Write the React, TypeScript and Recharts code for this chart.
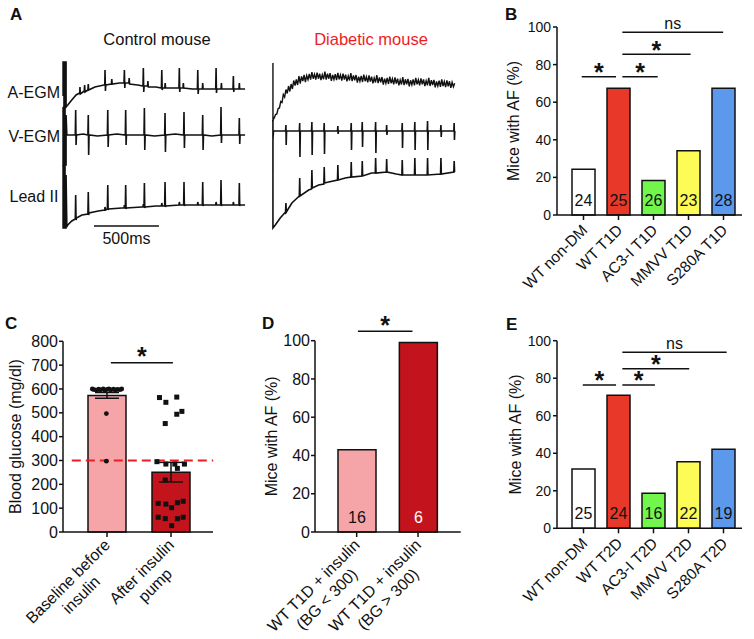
import React from "react";
import {
  BarChart,
  Bar,
  ComposedChart,
  Scatter,
  ErrorBar,
  LineChart,
  Line,
  XAxis,
  YAxis,
  ReferenceLine,
  LabelList,
  Label,
  Cell,
} from "recharts";

const FONT = "'Liberation Sans', Arial, Helvetica, sans-serif";
const INK = "#111";

// ---- panel A: traces, [time ms, amplitude] ----
const CTRL_AEGM: [number, number][] = [
  [-15, -8], [-15, 26], [-8, 26], [-8, -19], [0, -19], [0, 26], [8, 26], [8, -19],
  [21, -17], [52, -12], [85, -7],
  [113, -5], [115, 1], [118, -6], [148, -3], [151, 3], [154, -4], [176, -2], [179, 4], [182, -2],
  [230, 1], [300, 3],
  [306, 3], [308, 18], [311, -3], [314, 3], [357, 4], [360, 9], [363, 4], [420, 5],
  [454, 5], [457, 18], [460, 0], [463, 5], [491, 5], [494, 10], [497, 4], [560, 3],
  [600, 2], [603, 20], [606, -4], [609, 2], [635, 2], [638, 7], [641, 1], [700, 1],
  [742, 0], [745, 18], [748, -2], [751, 0], [768, 0], [771, 5], [774, 0], [850, 0],
  [877, 0], [880, 20], [883, -4], [886, 0], [908, 0], [911, 5], [914, 0], [980, -1],
  [1019, -1], [1022, 18], [1025, -6], [1028, -1], [1057, -1], [1060, 5], [1063, -1], [1120, -1],
  [1160, -1], [1163, 20], [1166, -5], [1169, -1], [1201, -1], [1204, 5], [1207, -1], [1270, -1],
  [1293, -1], [1296, 12], [1299, -4], [1302, -1], [1339, -1], [1342, 5], [1345, -1], [1386, -1],
];

const CTRL_VEGM: [number, number][] = [
  [-15, 28], [-15, -30], [-8, -30], [-8, 28], [0, 28], [0, -30], [8, -30], [8, 20], [14, 0],
  [50, 0], [79, 0], [82, 25], [85, -10], [88, 0],
  [140, 1], [176, 0], [179, 20], [182, -20], [185, 0],
  [250, -1], [326, 0], [329, 25], [332, -12], [335, 0],
  [400, 1], [464, 0], [467, 25], [470, -10], [473, 0],
  [540, 0], [608, 0], [611, 27], [614, -15], [617, 0],
  [690, -1], [767, 0], [770, 22], [773, -17], [776, 0],
  [850, 1], [913, 0], [916, 23], [919, -13], [922, 0],
  [990, 0], [1057, 0], [1060, 20], [1063, -15], [1066, 0],
  [1130, -1], [1198, 0], [1201, 28], [1204, -8], [1207, 0],
  [1270, 0], [1339, 0], [1342, 17], [1345, -9], [1348, 0], [1386, 0],
];

const CTRL_LEAD: [number, number][] = [
  [-15, 40], [-15, -23], [-8, -23], [-8, 40], [0, 40], [0, -23], [8, -23], [8, 30], [14, -22],
  [21, -20], [52, -16], [79, -14], [82, 10], [85, -15], [88, -13],
  [130, -10], [176, -9], [179, 13], [182, -10], [185, -8],
  [256, -6], [305, -5], [308, -2], [312, -5], [326, -4], [329, 20], [332, -5], [335, -4],
  [436, -3], [454, -3], [457, 0], [461, -3], [464, -3], [467, 20], [470, -4], [473, -3],
  [590, -2], [600, -2], [603, 1], [606, -2], [608, -2], [611, 22], [614, -3], [617, -2],
  [700, -1], [742, -1], [745, 2], [749, -1], [767, -1], [770, 23], [773, -2], [776, -1],
  [877, 0], [880, 3], [884, 0], [913, 0], [916, 23], [919, -1], [922, 0],
  [1019, 0], [1022, 3], [1026, 0], [1057, 0], [1060, 23], [1063, -1], [1066, 0],
  [1160, 0], [1163, 3], [1167, 0], [1198, 0], [1201, 25], [1204, -1], [1207, 0],
  [1293, 0], [1296, 3], [1300, 0], [1339, 0], [1342, 22], [1345, -1], [1348, 0], [1386, 0],
];

// atrial fibrillation: fast irregular activity riding on the recovery curve
const DIAB_AEGM: [number, number][] = [
  [0, 17], [0, -40], [10, -38], [20, -34.5], [30, -34], [40, -28.5], [50, -28], [60, -21.5],
  [70, -22.5], [80, -14.5], [90, -17], [100, -9.5], [110, -13.5], [120, -6], [130, -11.5],
  [140, -4], [150, -9], [160, -0.5], [170, -5.5], [180, 0.5], [190, -5], [200, 3.8], [210, -3.5],
  [220, 3.5], [230, -1], [240, 5], [250, -2], [260, 4.4], [270, 0.3], [280, 6], [290, 0.3],
  [300, 7.8], [310, 1.3], [320, 5.8], [330, 0.3], [340, 7.3], [350, 1.3], [360, 6.3], [370, -0.2],
  [380, 5.3], [390, 0.8], [400, 8.3], [410, 0.3], [420, 6.3], [430, 1.3], [440, 6.8], [450, -0.8],
  [460, 5.1], [470, 0.5], [480, 5.9], [490, -0.2], [500, 7.2], [510, 0.7], [520, 5.1], [530, -0.5],
  [540, 6.4], [550, 0.4], [560, 5.3], [570, -1.3], [580, 4.1], [590, -0.5], [600, 6.9], [610, -1.2],
  [620, 4.7], [630, -0.4], [640, 5], [650, -2.6], [660, 3.3], [670, -1.3], [680, 4.1], [690, -2],
  [700, 5.4], [710, -1.2], [720, 3.2], [730, -2.4], [740, 4.5], [750, -1.6], [760, 3.3], [770, -3.3],
  [780, 2.1], [790, -2.5], [800, 4.9], [810, -3.2], [820, 2.7], [830, -2.4], [840, 3], [850, -4.6],
  [860, 1.3], [870, -3.3], [880, 2.1], [890, -4], [900, 3.4], [910, -3.2], [920, 1.2], [930, -4.4],
  [940, 2.5], [950, -3.6], [960, 1.3], [970, -5.3], [980, 0.1], [990, -4.5], [1000, 2.9], [1010, -5.2],
  [1020, 0.7], [1030, -4.3], [1040, 1.2], [1050, -6.3], [1060, -0.3], [1070, -4.8], [1080, 0.7],
  [1090, -5.3], [1100, 2.2], [1110, -4.3], [1120, 0.2], [1130, -5.3], [1140, 1.7], [1150, -4.4],
  [1160, 0.5], [1170, -6.1], [1180, -0.7], [1190, -5.3], [1200, 2.1], [1210, -6], [1220, -0.1],
  [1230, -5.2], [1240, 0.2], [1250, -7.4], [1260, -1.5], [1270, -6.1], [1280, -0.7], [1290, -6.8],
  [1300, 0.6], [1310, -6], [1320, -1.6], [1330, -7.2], [1340, -0.3], [1350, -6.3], [1360, -1.3],
  [1370, -7.8], [1380, -2.3], [1390, -6.8], [1400, -3.3],
];

const DIAB_VEGM: [number, number][] = [
  [0, 11], [0, -9], [4, 0],
  [60, 0], [97, 0], [100, 6], [102, -14], [105, 0],
  [160, 0], [203, 0], [206, 8], [208, -26], [211, 0],
  [297, 0], [300, 9], [302, -24], [305, 0],
  [392, 0], [395, 8], [397, -23], [400, 0],
  [497, 0], [500, 5], [502, -3], [505, 0],
  [600, 0], [603, 8], [605, -19], [608, 0],
  [685, 0], [688, 9], [690, -16], [693, 0],
  [788, 0], [791, 9], [793, -22], [796, 0],
  [873, 0], [876, 6], [878, -4], [881, 0],
  [993, 0], [996, 8], [998, -17], [1001, 0],
  [1090, 0], [1093, 9], [1095, -19], [1098, 0],
  [1188, 0], [1191, 10], [1193, -19], [1196, 0],
  [1291, 0], [1294, 6], [1296, -6], [1299, 0],
  [1393, 0], [1396, 8], [1398, -9], [1401, 0],
];

const DIAB_LEAD: [number, number][] = [
  [0, 35], [0, -53], [18, -50], [56, -43], [97, -37], [100, -28], [103, -37], [146, -28],
  [203, -21], [206, -3], [209, -21], [275, -15],
  [297, -14], [300, 5], [303, -13], [352, -10],
  [392, -9], [395, 8], [398, -8], [429, -7],
  [497, -5], [500, 10], [503, -5], [557, -3],
  [600, -2], [603, 13], [606, -2], [685, -1], [688, 14], [691, -1], [760, 2],
  [788, 2], [791, 17], [794, 2], [873, 3], [876, 16], [879, 3], [950, 1],
  [993, 0], [996, 15], [999, 0], [1090, 0], [1093, 17], [1096, 0], [1145, 0],
  [1188, 0], [1191, 17], [1194, 0], [1291, 1], [1294, 17], [1297, 1],
  [1393, 3], [1396, 14], [1399, 3], [1401, 3],
];

const SCALE_BAR_MS = [223, 723];

// ---- panels B and E ----
const GROUPS_T1D = ["WT non-DM", "WT T1D", "AC3-I T1D", "MMVV T1D", "S280A T1D"];
const AF_T1D = [24.3, 67.4, 18.3, 34.2, 67.4];
const N_T1D = [24, 25, 26, 23, 28];
const GROUPS_T2D = ["WT non-DM", "WT T2D", "AC3-I T2D", "MMVV T2D", "S280A T2D"];
const AF_T2D = [31.6, 70.9, 18.7, 35.5, 42.1];
const N_T2D = [25, 24, 16, 22, 19];
const GROUP_COLORS = ["#ffffff", "#e8382a", "#72f64c", "#fdfb55", "#5c98ec"];

// significance brackets: [from, to, height, text] on a 0..5 group scale
const SIG_T1D: [number, number, number, string][] = [
  [0.45, 1.43, 73.6, "*"],
  [1.61, 2.62, 73.6, "*"],
  [1.61, 3.56, 85.5, "*"],
  [1.61, 4.49, 97.2, "ns"],
];
const SIG_T2D: [number, number, number, string][] = [
  [0.48, 1.43, 76.4, "*"],
  [1.61, 2.54, 76.4, "*"],
  [1.61, 3.52, 85.1, "*"],
  [1.61, 4.59, 93.8, "ns"],
];

// ---- panel C ----
const C_GROUPS = ["Baseline before\ninsulin", "After insulin\npump"];
const C_MEAN = [573, 251];
const C_SEM = [12, 41];
const C_COLORS = ["#f5a5a8", "#c3131c"];
const C_BASE_X = [0.27, 0.3, 0.34, 0.37, 0.4, 0.44, 0.47, 0.5, 0.53, 0.56, 0.6, 0.63, 0.66, 0.7, 0.73, 0.49, 0.49];
const C_BASE_Y = [600, 597, 595, 599, 596, 600, 594, 598, 600, 596, 599, 595, 598, 597, 600, 497, 297];
const C_PUMP_X = [1.32, 1.42, 1.59, 1.67, 1.59, 1.41, 1.28, 1.42, 1.56, 1.71, 1.6, 1.41, 1.3, 1.42, 1.51, 1.6, 1.69, 1.3, 1.41, 1.6, 1.69, 1.51];
const C_PUMP_Y = [564, 544, 566, 506, 494, 455, 295, 285, 285, 285, 267, 218, 120, 117, 102, 123, 129, 62, 56, 56, 62, 27];
const C_THRESHOLD = 300;
const C_SIG: [number, number, number, string] = [0.56, 1.53, 710, "*"];

// ---- panel D ----
const D_GROUPS = ["WT T1D + insulin\n(BG < 300)", "WT T1D + insulin\n(BG > 300)"];
const D_AF = [43, 99];
const D_N = [16, 6];
const D_SIG: [number, number, number, string] = [0.52, 1.41, 105, "*"];

const AXIS = { stroke: INK, strokeWidth: 1.5 };

let ctx: CanvasRenderingContext2D | null = null;
function measure(s: string, size: number) {
  if (!ctx) ctx = document.createElement("canvas").getContext("2d");
  if (!ctx) return s.length * size * 0.5;
  ctx.font = `${size}px ${FONT}`;
  return ctx.measureText(s).width;
}

function SlantTick(props: any) {
  const { x, y, payload, fs = 15, offX = 5, offY = 9, gap = 19 } = props;
  const lines = String(payload.value).split("\n");
  const w1 = measure(lines[0], fs);
  return (
    <g transform={`translate(${x + offX},${y + offY}) rotate(-45)`}>
      <text x={0} y={0} textAnchor="end" fontSize={fs} fontFamily={FONT} fill={INK}>
        {lines[0]}
      </text>
      {lines[1] && (
        <text x={-w1 / 2} y={gap} textAnchor="middle" fontSize={fs} fontFamily={FONT} fill={INK}>
          {lines[1]}
        </text>
      )}
    </g>
  );
}

function SigText(props: any) {
  const { viewBox, txt, shift = 4.4, size } = props;
  if (!viewBox) return null;
  const cx = viewBox.x + (viewBox.width || 0) / 2;
  const star = txt === "*";
  return (
    <text
      x={cx}
      y={viewBox.y + shift}
      textAnchor="middle"
      fontSize={size ?? (star ? 25 : 16)}
      fontWeight={star ? "bold" : "normal"}
      fontFamily={FONT}
      fill={INK}
    >
      {txt}
    </text>
  );
}

function CountLabel(props: any) {
  const { x, y, width, height, value, index, colors } = props;
  return (
    <text
      x={x + width / 2}
      y={y + height - 9}
      textAnchor="middle"
      fontSize={16}
      fontFamily={FONT}
      fill={colors ? colors[index] : INK}
    >
      {value}
    </text>
  );
}

function AfPanel({ groups, af, n, sig, top, plotTop, plotBottom, axisH, labelOffset }: any) {
  const data = groups.map((name: string, i: number) => ({ name, pct: af[i], n: n[i] }));
  const height = plotBottom - top + axisH;
  return (
    <div style={{ position: "absolute", left: 460, top }}>
      <BarChart
        width={294}
        height={height}
        data={data}
        margin={{ top: plotTop - top, right: 12, bottom: 0, left: 0 }}
      >
        <XAxis
          dataKey="name"
          interval={0}
          height={axisH}
          padding={{ left: 9, right: 1 }}
          tickSize={5}
          axisLine={AXIS}
          tickLine={AXIS}
          tick={<SlantTick fs={15.5} offX={5} offY={9} />}
        />
        <XAxis
          xAxisId="sig"
          dataKey="pos"
          type="number"
          domain={[0, 5]}
          hide
          padding={{ left: 9, right: 1 }}
          allowDataOverflow
        />
        <YAxis
          width={97}
          domain={[0, 100]}
          ticks={[0, 20, 40, 60, 80, 100]}
          tickSize={4}
          tickMargin={2}
          axisLine={AXIS}
          tickLine={AXIS}
          tick={{ fill: INK, fontSize: 14, fontFamily: FONT }}
        >
          <Label
            value="Mice with AF (%)"
            angle={-90}
            position="insideLeft"
            offset={labelOffset}
            style={{ textAnchor: "middle" }}
            fontSize={16}
            fontFamily={FONT}
            fill={INK}
          />
        </YAxis>
        <Bar dataKey="pct" barSize={23} stroke={INK} strokeWidth={1.5} isAnimationActive={false}>
          {data.map((_: any, i: number) => (
            <Cell key={i} fill={GROUP_COLORS[i]} />
          ))}
          <LabelList dataKey="n" content={<CountLabel />} />
        </Bar>
        {sig.map(([a, b, h, t]: any, i: number) => (
          <ReferenceLine
            key={i}
            xAxisId="sig"
            segment={[{ x: a, y: h }, { x: b, y: h }]}
            ifOverflow="visible"
            stroke={INK}
            strokeWidth={1.5}
            label={<SigText txt={t} shift={t === "*" ? 4.4 : -3} />}
          />
        ))}
      </BarChart>
    </div>
  );
}

function TraceChart({ left, width, domainX, traces, scaleBar }: any) {
  return (
    <div style={{ position: "absolute", left, top: 55 }}>
      <LineChart width={width} height={195} margin={{ top: 0, right: 0, bottom: 0, left: 0 }}>
        <XAxis dataKey="t" type="number" domain={domainX} hide allowDataOverflow />
        {traces.map((tr: any) => (
          <YAxis key={tr.id} yAxisId={tr.id} type="number" domain={tr.domain} hide allowDataOverflow />
        ))}
        {traces.map((tr: any) => (
          <Line
            key={tr.id}
            yAxisId={tr.id}
            data={tr.points.map(([t, v]: [number, number]) => ({ t, v }))}
            dataKey="v"
            type="linear"
            stroke={INK}
            strokeWidth={tr.w ?? 1.6}
            dot={false}
            isAnimationActive={false}
          />
        ))}
        {scaleBar && (
          <ReferenceLine
            yAxisId="lead"
            segment={[{ x: SCALE_BAR_MS[0], y: -21 }, { x: SCALE_BAR_MS[1], y: -21 }]}
            ifOverflow="visible"
            stroke={INK}
            strokeWidth={1.5}
            label={<SigText txt="500ms" shift={18} size={16} />}
          />
        )}
      </LineChart>
    </div>
  );
}

function PanelC() {
  const bars = C_GROUPS.map((name, i) => ({ name, mean: C_MEAN[i], sem: C_SEM[i] }));
  const base = C_BASE_X.map((x, i) => ({ x, y: C_BASE_Y[i] }));
  const pump = C_PUMP_X.map((x, i) => ({ x, y: C_PUMP_Y[i] }));
  return (
    <div style={{ position: "absolute", left: 0, top: 305 }}>
      <ComposedChart width={230} height={334} data={bars} margin={{ top: 36.3, right: 17, bottom: 0, left: 0 }}>
        <XAxis
          dataKey="name"
          interval={0}
          height={107}
          padding={{ left: 12, right: 10 }}
          tickSize={5}
          axisLine={AXIS}
          tickLine={AXIS}
          tick={<SlantTick fs={16} offX={4} offY={7} gap={19} />}
        />
        <XAxis xAxisId="num" dataKey="x" type="number" domain={[0, 2]} hide padding={{ left: 12, right: 10 }} allowDataOverflow />
        <YAxis
          width={63}
          domain={[0, 800]}
          ticks={[0, 100, 200, 300, 400, 500, 600, 700, 800]}
          tickSize={4}
          tickMargin={1}
          axisLine={AXIS}
          tickLine={AXIS}
          tick={{ fill: INK, fontSize: 16, fontFamily: FONT }}
        >
          <Label
            value="Blood glucose (mg/dl)"
            angle={-90}
            position="insideLeft"
            offset={15}
            style={{ textAnchor: "middle" }}
            fontSize={16}
            fontFamily={FONT}
            fill={INK}
          />
        </YAxis>
        <Bar dataKey="mean" barSize={38} stroke={INK} strokeWidth={1.5} isAnimationActive={false}>
          {bars.map((_, i) => (
            <Cell key={i} fill={C_COLORS[i]} />
          ))}
          <ErrorBar dataKey="sem" width={12} stroke={INK} strokeWidth={1.5} direction="y" />
        </Bar>
        <ReferenceLine
          xAxisId="num"
          segment={[{ x: -0.05, y: C_THRESHOLD }, { x: 2.16, y: C_THRESHOLD }]}
          ifOverflow="visible"
          stroke="#ee1c25"
          strokeWidth={2}
          strokeDasharray="9 5"
        />
        <Scatter
          xAxisId="num"
          data={base}
          dataKey="y"
          isAnimationActive={false}
          shape={(p: any) => <circle cx={p.cx} cy={p.cy} r={2.4} fill={INK} />}
        />
        <Scatter
          xAxisId="num"
          data={pump}
          dataKey="y"
          isAnimationActive={false}
          shape={(p: any) => <rect x={p.cx - 2.5} y={p.cy - 2.5} width={5} height={5} fill={INK} />}
        />
        <ReferenceLine
          xAxisId="num"
          segment={[{ x: C_SIG[0], y: C_SIG[2] }, { x: C_SIG[1], y: C_SIG[2] }]}
          ifOverflow="visible"
          stroke={INK}
          strokeWidth={1.5}
          label={<SigText txt={C_SIG[3]} shift={2} />}
        />
      </ComposedChart>
    </div>
  );
}

function PanelD() {
  const data = D_GROUPS.map((name, i) => ({ name, pct: D_AF[i], n: D_N[i] }));
  return (
    <div style={{ position: "absolute", left: 250, top: 305 }}>
      <BarChart width={230} height={334} data={data} margin={{ top: 35.7, right: 19.3, bottom: 0, left: 0 }}>
        <XAxis
          dataKey="name"
          interval={0}
          height={107}
          padding={{ left: 11, right: 12 }}
          tickSize={5}
          axisLine={AXIS}
          tickLine={AXIS}
          tick={<SlantTick fs={16} offX={4} offY={7} gap={19} />}
        />
        <XAxis
          xAxisId="sig"
          dataKey="pos"
          type="number"
          domain={[0, 2]}
          hide
          padding={{ left: 11, right: 12 }}
          allowDataOverflow
        />
        <YAxis
          width={65}
          domain={[0, 100]}
          ticks={[0, 20, 40, 60, 80, 100]}
          tickSize={4}
          tickMargin={1}
          axisLine={AXIS}
          tickLine={AXIS}
          tick={{ fill: INK, fontSize: 16, fontFamily: FONT }}
        >
          <Label
            value="Mice with AF (%)"
            angle={-90}
            position="insideLeft"
            offset={21}
            style={{ textAnchor: "middle" }}
            fontSize={16}
            fontFamily={FONT}
            fill={INK}
          />
        </YAxis>
        <Bar dataKey="pct" barSize={38} stroke={INK} strokeWidth={1.5} isAnimationActive={false}>
          {data.map((_, i) => (
            <Cell key={i} fill={C_COLORS[i]} />
          ))}
          <LabelList dataKey="n" content={<CountLabel colors={[INK, "#ffffff"]} />} />
        </Bar>
        <ReferenceLine
          xAxisId="sig"
          segment={[{ x: D_SIG[0], y: D_SIG[2] }, { x: D_SIG[1], y: D_SIG[2] }]}
          ifOverflow="visible"
          stroke={INK}
          strokeWidth={1.5}
          label={<SigText txt={D_SIG[3]} shift={3} />}
        />
      </BarChart>
    </div>
  );
}

export default function App() {
  const letter = { fontFamily: FONT, fontWeight: "bold" as const, fontSize: 17, fill: INK };
  const txt = { fontFamily: FONT, fontSize: 16, fill: INK };
  return (
    <div style={{ position: "absolute", left: 0, top: 0, width: 754, height: 639, background: "#fff", overflow: "hidden" }}>
      <style>{`.recharts-surface{overflow:visible}`}</style>
      <TraceChart
        left={61}
        width={186}
        domainX={[-31, 1401]}
        scaleBar
        traces={[
          { id: "a", domain: [-162, 33], points: CTRL_AEGM },
          { id: "v", domain: [-115, 80], points: CTRL_VEGM },
          { id: "lead", domain: [-45, 150], points: CTRL_LEAD },
        ]}
      />
      <TraceChart
        left={271}
        width={185}
        domainX={[-15, 1410]}
        traces={[
          { id: "a", domain: [-170, 25], points: DIAB_AEGM, w: 1.4 },
          { id: "v", domain: [-119, 76], points: DIAB_VEGM },
          { id: "lead", domain: [-75, 120], points: DIAB_LEAD },
        ]}
      />
      <AfPanel groups={GROUPS_T1D} af={AF_T1D} n={N_T1D} sig={SIG_T1D} top={0} plotTop={27} plotBottom={215} axisH={115} labelOffset={53} />
      <AfPanel groups={GROUPS_T2D} af={AF_T2D} n={N_T2D} sig={SIG_T2D} top={305} plotTop={340.7} plotBottom={528.3} axisH={110.7} labelOffset={55} />
      <PanelC />
      <PanelD />
      <svg width={754} height={639} style={{ position: "absolute", left: 0, top: 0, pointerEvents: "none" }}>
        <text x={10} y={20} {...letter}>A</text>
        <text x={505} y={20} {...letter}>B</text>
        <text x={5} y={329} {...letter}>C</text>
        <text x={262} y={329} {...letter}>D</text>
        <text x={506} y={330} {...letter}>E</text>
        <text x={157} y={45} textAnchor="middle" {...txt} fontSize={16.5}>Control mouse</text>
        <text x={371} y={45} textAnchor="middle" {...txt} fontSize={16.5} fill="#ee1c25">Diabetic mouse</text>
        <text x={60} y={98} textAnchor="end" {...txt}>A-EGM</text>
        <text x={60} y={141.5} textAnchor="end" {...txt}>V-EGM</text>
        <text x={58.5} y={202} textAnchor="end" {...txt}>Lead II</text>
      </svg>
    </div>
  );
}
